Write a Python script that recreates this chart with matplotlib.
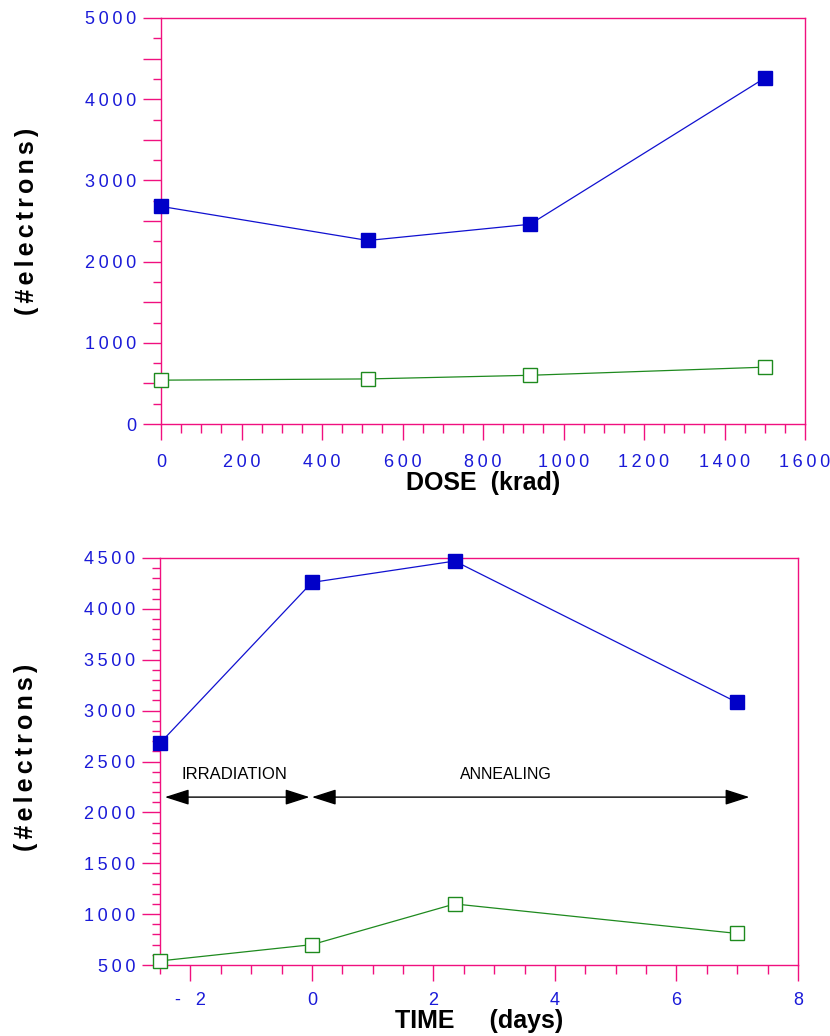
import matplotlib
matplotlib.use("Agg")
import matplotlib.pyplot as plt
from matplotlib.ticker import MultipleLocator, FixedLocator

plt.rcParams['font.family'] = ['Liberation Sans', 'DejaVu Sans']

# dose scan
dose = [0, 514, 917, 1500]
dose_blue = [2680, 2260, 2460, 4260]
dose_green = [540, 555, 600, 700]

# irradiation / annealing history
days = [-2.5, 0, 2.35, 7]
days_blue = [2680, 4260, 4470, 3080]
days_green = [540, 700, 1100, 810]

dose_ticks = [0, 200, 400, 600, 800, 1000, 1200, 1400, 1600]
top_yticks = [0, 1000, 2000, 3000, 4000, 5000]
day_ticks = [-2, 0, 2, 4, 6, 8]
day_labels = ['-   2', '0', '2', '4', '6', '8']
bot_yticks = [500, 1000, 1500, 2000, 2500, 3000, 3500, 4000, 4500]

PINK = '#f0107f'
BLUE = '#1a1ad8'
LINE_BLUE = '#1010d0'
MARK_BLUE = '#0000c8'
GREEN = '#1e8a1e'


def spaced(s, sep='\u2009'):
    return sep.join(str(s))


def style_axes(ax):
    for s in ax.spines.values():
        s.set_color(PINK)
        s.set_linewidth(1.0)
    ax.tick_params(which='both', direction='out', color=PINK, labelcolor=BLUE,
                   labelsize=13, width=1.0)
    ax.tick_params(axis='y', which='major', length=13, pad=5)
    ax.tick_params(axis='y', which='minor', length=6)
    ax.tick_params(axis='x', which='major', length=11.5, pad=10)
    ax.tick_params(axis='x', which='minor', length=6.5)


def draw_series(ax, x, yb, yg):
    ax.plot(x, yb, color=LINE_BLUE, lw=0.9, marker='s', ms=9.5,
            mfc=MARK_BLUE, mec=MARK_BLUE, clip_on=False, zorder=3)
    ax.plot(x, yg, color=GREEN, lw=0.9, marker='s', ms=9.5,
            mfc='white', mec=GREEN, mew=1.0, clip_on=False, zorder=3)


fig = plt.figure(figsize=(8.3, 10.36), dpi=100)

# top panel: signal vs dose
ax1 = fig.add_axes([161 / 830, 1 - 424 / 1036, (805 - 161) / 830, (424 - 18) / 1036])
draw_series(ax1, dose, dose_blue, dose_green)
ax1.set_xlim(0, 1600)
ax1.set_ylim(0, 5000)
style_axes(ax1)
ax1.xaxis.set_major_locator(FixedLocator(dose_ticks))
ax1.set_xticklabels([spaced(v) for v in dose_ticks])
ax1.xaxis.set_minor_locator(MultipleLocator(50))
ax1.yaxis.set_major_locator(FixedLocator([v for v in range(0, 5001, 500)]))
ax1.set_yticklabels([spaced(v) if v in top_yticks else '' for v in range(0, 5001, 500)])
ax1.yaxis.set_minor_locator(MultipleLocator(250))
ax1.set_xlabel('DOSE  (krad)', fontsize=18, fontweight='bold', labelpad=0)
ax1.set_ylabel(spaced('(#electrons)', '\u2006'), fontsize=18, fontweight='bold')
ax1.yaxis.set_label_coords(-0.19, 0.5)

# bottom panel: irradiation then annealing
ax2 = fig.add_axes([160 / 830, 1 - 965 / 1036, (798 - 160) / 830, (965 - 558) / 1036])
draw_series(ax2, days, days_blue, days_green)
ax2.set_xlim(-2.5, 8)
ax2.set_ylim(500, 4500)
style_axes(ax2)
ax2.xaxis.set_major_locator(FixedLocator(day_ticks))
ax2.set_xticklabels(day_labels)
ax2.xaxis.set_minor_locator(MultipleLocator(0.5))
ax2.yaxis.set_major_locator(FixedLocator(bot_yticks))
ax2.set_yticklabels([spaced(v) for v in bot_yticks])
ax2.yaxis.set_minor_locator(MultipleLocator(100))
ax2.tick_params(axis='x', which='major', pad=8)
ax2.set_xlabel('TIME     (days)', fontsize=18, fontweight='bold', labelpad=0)
ax2.set_ylabel(spaced('(#electrons)', '\u2006'), fontsize=18, fontweight='bold')
ax2.yaxis.set_label_coords(-0.191, 0.51)

arrow = dict(arrowstyle='<|-|>,head_length=1.0,head_width=0.32', color='black',
             lw=1.0, mutation_scale=15, shrinkA=0, shrinkB=0)
ax2.annotate('', xy=(-2.42, 2150), xytext=(-0.04, 2150), arrowprops=arrow)
ax2.annotate('', xy=(0.0, 2150), xytext=(7.2, 2150), arrowprops=arrow)
ax2.text(-1.27, 2370, 'IRRADIATION', ha='center', va='center', fontsize=12)
ax2.text(3.2, 2370, 'ANNEALING', ha='center', va='center', fontsize=11.5)

fig.savefig('out.png', dpi=100)
